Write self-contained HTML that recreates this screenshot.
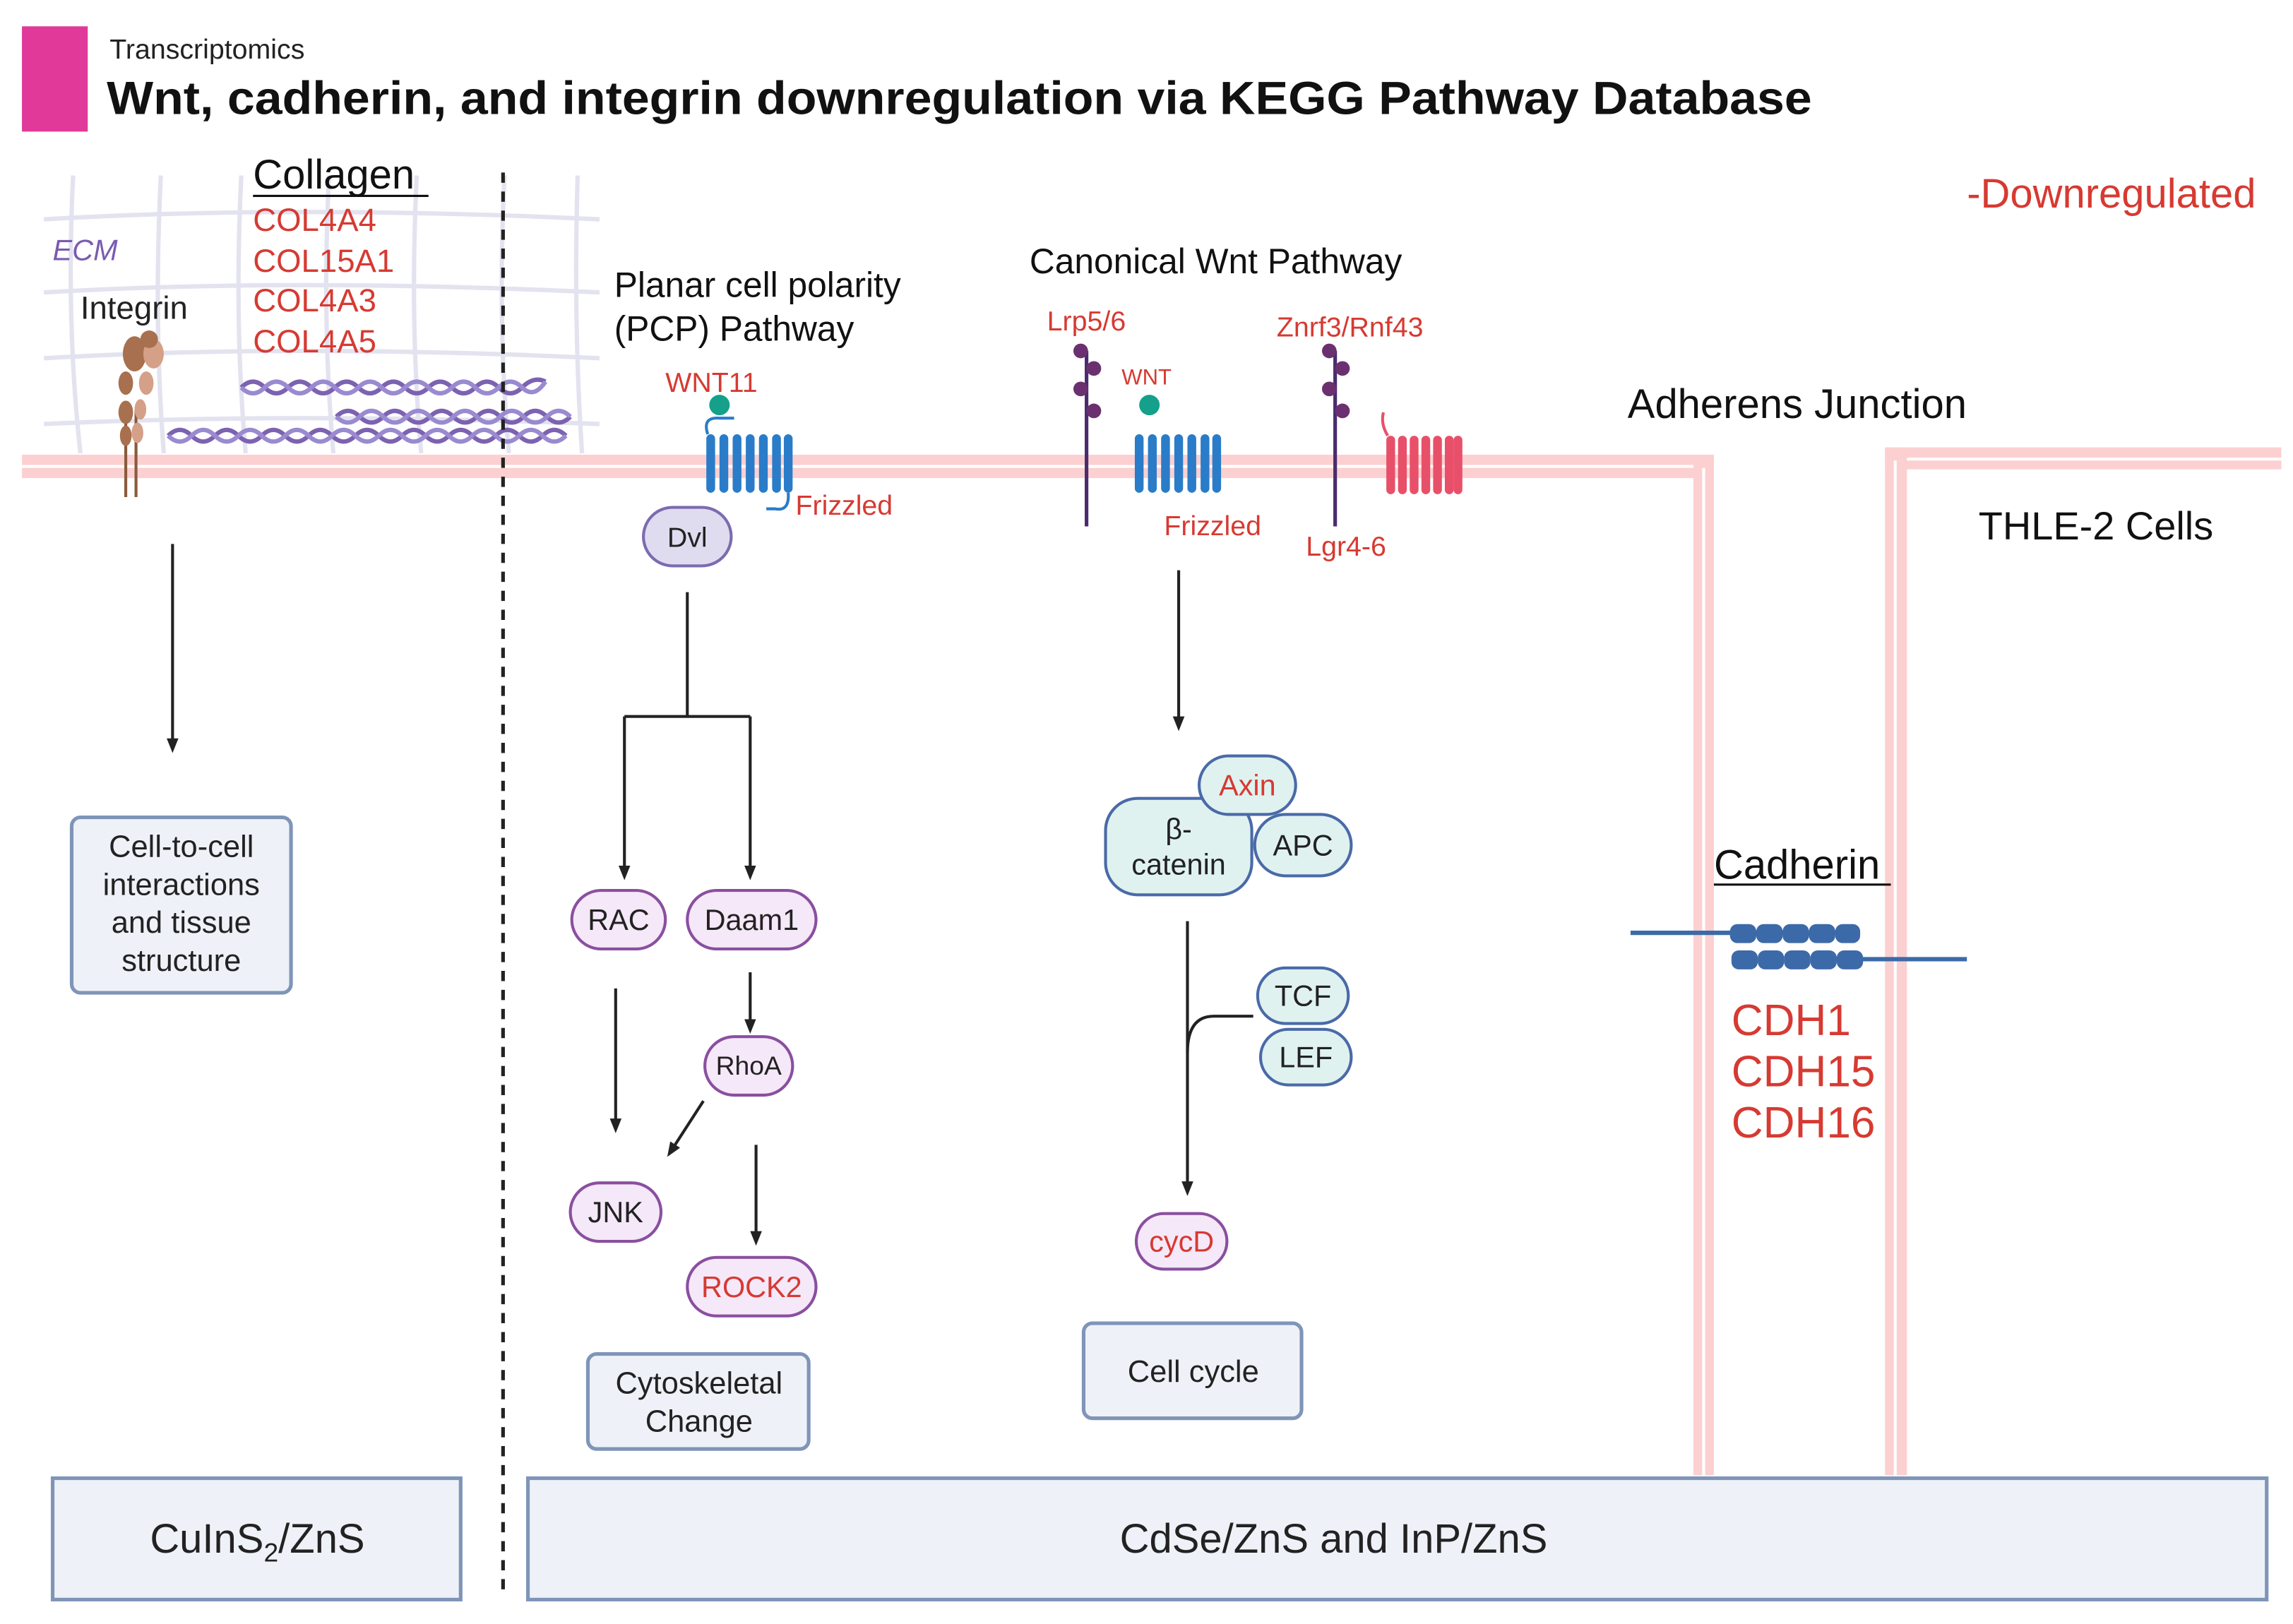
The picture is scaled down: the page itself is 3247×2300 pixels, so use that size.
<!DOCTYPE html>
<html><head><meta charset="utf-8"><style>
html,body{margin:0;padding:0;background:#fff;}
svg{display:block;}
text{font-family:"Liberation Sans",sans-serif;}
</style></head><body>
<svg width="3247" height="2300" viewBox="0 0 1568 1110.7" preserveAspectRatio="none" xmlns="http://www.w3.org/2000/svg">
<defs>
<marker id="ah" markerWidth="10" markerHeight="10" refX="5" refY="5" orient="auto" markerUnits="userSpaceOnUse"><path d="M0,1 L10,5 L0,9 z" fill="#222"/></marker>
</defs>
<!-- header -->
<rect x="15" y="18" width="45" height="72" fill="#e0399a"/>
<text x="75" y="40" font-size="19" fill="#222">Transcriptomics</text>
<text x="73" y="78" font-size="32" font-weight="bold" fill="#111" textLength="1166" lengthAdjust="spacingAndGlyphs">Wnt, cadherin, and integrin downregulation via KEGG Pathway Database</text>

<!-- ECM grid -->
<g stroke="#e3e3f0" stroke-width="3" fill="none">
<path d="M30,150 Q200,140 410,150"/><path d="M30,200 Q200,190 410,200"/><path d="M30,245 Q200,235 410,245"/><path d="M30,290 Q200,282 410,290"/>
<path d="M50,120 Q45,220 55,310"/><path d="M110,120 Q105,220 112,310"/><path d="M165,120 Q160,220 168,310"/><path d="M225,120 Q220,220 228,310"/><path d="M285,120 Q280,220 288,310"/><path d="M345,120 Q340,220 348,310"/><path d="M395,120 Q392,220 398,310"/>
</g>
<!-- collagen fibers -->
<g fill="none" stroke="#7c62b0" stroke-width="3">
<path d="M165,265 q8,-8 16,0 t16,0 t16,0 t16,0 t16,0 t16,0 t16,0 t16,0 t16,0 t16,0 t16,0 t16,0 t16,-4"/>
<path d="M165,265 q8,8 16,0 t16,0 t16,0 t16,0 t16,0 t16,0 t16,0 t16,0 t16,0 t16,0 t16,0 t16,0 t16,-4" stroke="#9a8ad0"/>
<path d="M115,298 q8,-8 16,0 t16,0 t16,0 t16,0 t16,0 t16,0 t16,0 t16,0 t16,0 t16,0 t16,0 t16,0 t16,0 t16,0 t16,0 t16,0 t16,0"/>
<path d="M115,298 q8,8 16,0 t16,0 t16,0 t16,0 t16,0 t16,0 t16,0 t16,0 t16,0 t16,0 t16,0 t16,0 t16,0 t16,0 t16,0 t16,0 t16,0" stroke="#9a8ad0"/>
<path d="M230,285 q8,-8 16,0 t16,0 t16,0 t16,0 t16,0 t16,0 t16,0 t16,0 t16,0 t16,0"/>
<path d="M230,285 q8,8 16,0 t16,0 t16,0 t16,0 t16,0 t16,0 t16,0 t16,0 t16,0 t16,0" stroke="#9a8ad0"/>
</g>
<text x="36" y="178" font-size="20" font-style="italic" fill="#7a5cb0">ECM</text>
<text x="55" y="218" font-size="22" fill="#222">Integrin</text>
<text x="173" y="129" font-size="28" fill="#111">Collagen</text>
<line x1="173" y1="134" x2="293" y2="134" stroke="#111" stroke-width="1.5"/>
<g font-size="22" fill="#d63a32"><text x="173" y="158">COL4A4</text><text x="173" y="186">COL15A1</text><text x="173" y="213">COL4A3</text><text x="173" y="241">COL4A5</text></g>

<!-- membranes -->
<g>
<rect x="15" y="311" width="1157" height="16" fill="#fcd0d0"/>
<rect x="15" y="318" width="1145" height="2" fill="#fff"/>
<rect x="1158" y="311" width="14" height="698" fill="#fcd0d0"/>
<rect x="1164" y="320" width="2" height="689" fill="#fff"/>
<rect x="1289" y="306" width="271" height="15" fill="#fcd0d0"/>
<rect x="1297" y="313" width="263" height="2" fill="#fff"/>
<rect x="1289" y="306" width="15" height="703" fill="#fcd0d0"/>
<rect x="1295" y="315" width="2" height="694" fill="#fff"/>
</g>

<!-- integrin -->
<g fill="#a8704e">
<line x1="86" y1="280" x2="86" y2="340" stroke="#8a5a3c" stroke-width="2"/>
<line x1="93" y1="280" x2="93" y2="340" stroke="#8a5a3c" stroke-width="2"/>
<ellipse cx="92" cy="242" rx="8" ry="12"/><ellipse cx="86" cy="262" rx="5" ry="8"/><ellipse cx="86" cy="282" rx="5" ry="8"/><ellipse cx="86" cy="298" rx="4" ry="7"/>
<g fill="#d4a088"><ellipse cx="105" cy="242" rx="7" ry="10"/><ellipse cx="100" cy="262" rx="5" ry="8"/><ellipse cx="96" cy="280" rx="4" ry="7"/><ellipse cx="94" cy="296" rx="4" ry="7"/></g>
<circle cx="102" cy="232" r="6" fill="#a8704e"/>
</g>

<!-- dashed divider -->
<line x1="344" y1="118" x2="344" y2="1092" stroke="#222" stroke-width="2.5" stroke-dasharray="7,6"/>

<text x="1345" y="142" font-size="28" fill="#d63a32">-Downregulated</text>
<text x="420" y="203" font-size="24" fill="#111">Planar cell polarity</text>
<text x="420" y="233" font-size="24" fill="#111">(PCP) Pathway</text>
<text x="704" y="187" font-size="24" fill="#111">Canonical Wnt Pathway</text>
<text x="1113" y="286" font-size="28" fill="#111">Adherens Junction</text>
<text x="1353" y="369" font-size="27" fill="#111">THLE-2 Cells</text>

<!-- PCP receptor -->
<text x="455" y="268" font-size="19" fill="#d63a32">WNT11</text>
<circle cx="492" cy="277" r="7" fill="#14a08a"/>
<g fill="#2a7cc8"><rect x="483" y="297" width="6" height="40" rx="3"/><rect x="492" y="297" width="6" height="40" rx="3"/><rect x="501" y="297" width="6" height="40" rx="3"/><rect x="510" y="297" width="6" height="40" rx="3"/><rect x="519" y="297" width="6" height="40" rx="3"/><rect x="528" y="297" width="6" height="40" rx="3"/><rect x="536" y="297" width="6" height="40" rx="3"/></g>
<path d="M484,297 Q480,285 492,286 L502,286" stroke="#2a7cc8" fill="none" stroke-width="2"/>
<path d="M539,337 Q540,350 530,348 L524,348" stroke="#2a7cc8" fill="none" stroke-width="2"/>
<text x="544" y="352" font-size="19" fill="#d63a32">Frizzled</text>

<!-- Canonical receptors -->
<text x="716" y="226" font-size="19" fill="#d63a32">Lrp5/6</text>
<text x="767" y="263" font-size="15" fill="#d63a32">WNT</text>
<text x="873" y="230" font-size="19" fill="#d63a32">Znrf3/Rnf43</text>
<line x1="743" y1="240" x2="743" y2="360" stroke="#4a2c6e" stroke-width="2.5"/>
<g fill="#6b3070"><circle cx="739" cy="240" r="5"/><circle cx="748" cy="252" r="5"/><circle cx="739" cy="266" r="5"/><circle cx="748" cy="281" r="5"/></g>
<line x1="913" y1="240" x2="913" y2="360" stroke="#4a2c6e" stroke-width="2.5"/>
<g fill="#6b3070"><circle cx="909" cy="240" r="5"/><circle cx="918" cy="252" r="5"/><circle cx="909" cy="266" r="5"/><circle cx="918" cy="281" r="5"/></g>
<circle cx="786" cy="277" r="7" fill="#14a08a"/>
<g fill="#2a7cc8"><rect x="776" y="297" width="6" height="40" rx="3"/><rect x="785" y="297" width="6" height="40" rx="3"/><rect x="794" y="297" width="6" height="40" rx="3"/><rect x="803" y="297" width="6" height="40" rx="3"/><rect x="812" y="297" width="6" height="40" rx="3"/><rect x="821" y="297" width="6" height="40" rx="3"/><rect x="829" y="297" width="6" height="40" rx="3"/></g>
<g fill="#e8506a"><rect x="948" y="298" width="6" height="40" rx="3"/><rect x="956" y="298" width="6" height="40" rx="3"/><rect x="964" y="298" width="6" height="40" rx="3"/><rect x="972" y="298" width="6" height="40" rx="3"/><rect x="980" y="298" width="6" height="40" rx="3"/><rect x="988" y="298" width="6" height="40" rx="3"/><rect x="994" y="298" width="6" height="40" rx="3"/></g>
<path d="M949,298 Q944,290 946,282" stroke="#e8506a" fill="none" stroke-width="2"/>
<text x="796" y="366" font-size="19" fill="#d63a32">Frizzled</text>
<text x="893" y="380" font-size="19" fill="#d63a32">Lgr4-6</text>

<!-- PCP flow -->
<rect x="440" y="347" width="60" height="40" rx="20" fill="#e0dcf0" stroke="#7b6bb0" stroke-width="2"/>
<text x="470" y="374" font-size="19" text-anchor="middle" fill="#222">Dvl</text>
<g stroke="#222" stroke-width="2" fill="none">
<path d="M470,405 L470,490 M427,490 L513,490"/>
<line x1="427" y1="490" x2="427" y2="597" marker-end="url(#ah)"/>
<line x1="513" y1="490" x2="513" y2="597" marker-end="url(#ah)"/>
<line x1="513" y1="665" x2="513" y2="702" marker-end="url(#ah)"/>
<line x1="421" y1="676" x2="421" y2="770" marker-end="url(#ah)"/>
<line x1="481" y1="753" x2="459" y2="787" marker-end="url(#ah)"/>
<line x1="517" y1="783" x2="517" y2="847" marker-end="url(#ah)"/>
<line x1="118" y1="372" x2="118" y2="510" marker-end="url(#ah)"/>
<line x1="806" y1="390" x2="806" y2="495" marker-end="url(#ah)"/>
<line x1="812" y1="630" x2="812" y2="813" marker-end="url(#ah)"/>
<path d="M812,720 Q812,695 830,695 L857,695"/>
</g>
<g stroke="#8a4fa0" stroke-width="2" fill="#f5e8f8">
<rect x="391" y="609" width="64" height="40" rx="20"/>
<rect x="470" y="609" width="88" height="40" rx="20"/>
<rect x="482" y="709" width="60" height="40" rx="20"/>
<rect x="390" y="809" width="62" height="40" rx="20"/>
<rect x="470" y="860" width="88" height="40" rx="20"/>
<rect x="777" y="830" width="62" height="38" rx="19"/>
</g>
<g font-size="20" text-anchor="middle" fill="#222">
<text x="423" y="636">RAC</text><text x="514" y="636">Daam1</text><text x="512" y="735" font-size="18">RhoA</text><text x="421" y="836">JNK</text><text x="514" y="887" fill="#d63a32">ROCK2</text><text x="808" y="856" fill="#d63a32">cycD</text>
</g>

<!-- canonical complex -->
<g stroke="#4a6aa8" stroke-width="2" fill="#dff2f0">
<rect x="756" y="546" width="100" height="66" rx="22"/>
<rect x="858" y="557" width="66" height="42" rx="21"/>
<rect x="820" y="517" width="66" height="40" rx="20"/>
<rect x="860" y="662" width="62" height="38" rx="19"/>
<rect x="862" y="704" width="62" height="38" rx="19"/>
</g>
<g font-size="20" text-anchor="middle" fill="#222">
<text x="806" y="574">β-</text><text x="806" y="598">catenin</text><text x="891" y="585">APC</text><text x="853" y="544" fill="#d63a32">Axin</text><text x="891" y="688">TCF</text><text x="893" y="730">LEF</text>
</g>

<!-- result boxes -->
<g stroke="#7f95b8" stroke-width="2.5" fill="#eef2f8">
<rect x="49" y="559" width="150" height="120" rx="6"/>
<rect x="402" y="926" width="151" height="65" rx="6"/>
<rect x="741" y="905" width="149" height="65" rx="6"/>
<rect x="36" y="1011" width="279" height="83"/>
<rect x="361" y="1011" width="1189" height="83"/>
</g>
<g font-size="21" text-anchor="middle" fill="#222">
<text x="124" y="586">Cell-to-cell</text><text x="124" y="612">interactions</text><text x="124" y="638">and tissue</text><text x="124" y="664">structure</text>
<text x="478" y="953">Cytoskeletal</text><text x="478" y="979">Change</text>
<text x="816" y="945">Cell cycle</text>
<text x="176" y="1062" font-size="28">CuInS<tspan font-size="18" dy="6">2</tspan><tspan dy="-6">/ZnS</tspan></text>
<text x="912" y="1062" font-size="28">CdSe/ZnS and InP/ZnS</text>
</g>

<!-- cadherin -->
<text x="1172" y="601" font-size="28" fill="#111">Cadherin</text>
<line x1="1172" y1="605" x2="1293" y2="605" stroke="#111" stroke-width="1.5"/>
<line x1="1115" y1="638" x2="1272" y2="638" stroke="#3c6aa8" stroke-width="3"/>
<line x1="1240" y1="656" x2="1345" y2="656" stroke="#3c6aa8" stroke-width="3"/>
<g fill="#3c6aa8">
<rect x="1183" y="632" width="18" height="13" rx="5"/><rect x="1201" y="632" width="18" height="13" rx="5"/><rect x="1219" y="632" width="18" height="13" rx="5"/><rect x="1237" y="632" width="18" height="13" rx="5"/><rect x="1255" y="632" width="17" height="13" rx="5"/>
<rect x="1184" y="650" width="18" height="13" rx="5"/><rect x="1202" y="650" width="18" height="13" rx="5"/><rect x="1220" y="650" width="18" height="13" rx="5"/><rect x="1238" y="650" width="18" height="13" rx="5"/><rect x="1256" y="650" width="18" height="13" rx="5"/>
</g>
<g font-size="30" fill="#d63a32"><text x="1184" y="708">CDH1</text><text x="1184" y="743">CDH15</text><text x="1184" y="778">CDH16</text></g>
</svg>
</body></html>
